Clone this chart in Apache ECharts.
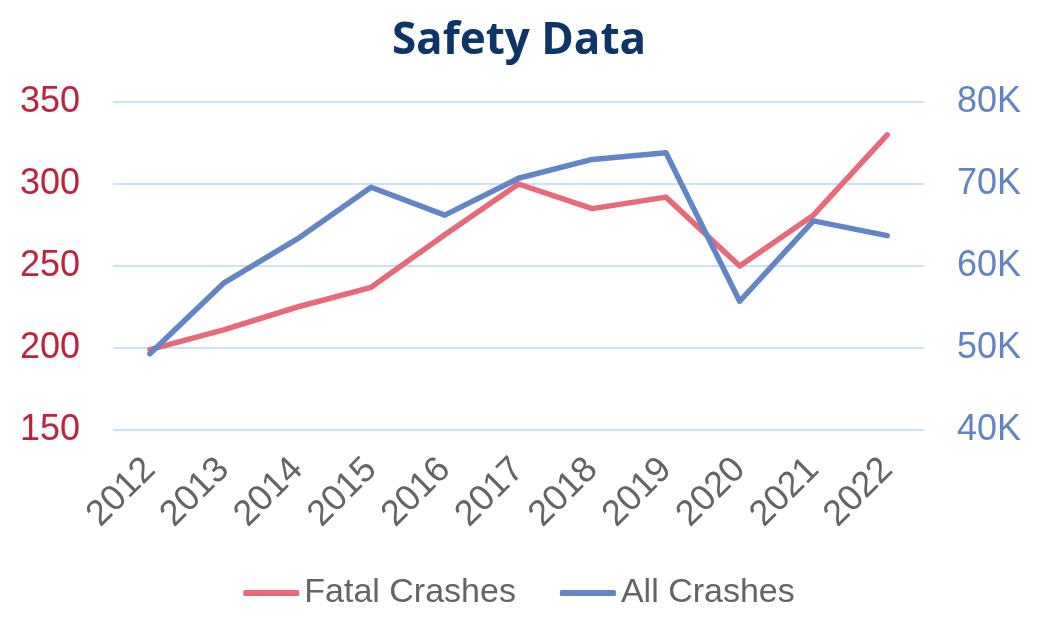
<!DOCTYPE html>
<html>
<head>
<meta charset="utf-8">
<script src="https://cdn.jsdelivr.net/npm/echarts@6/dist/echarts.min.js"></script>
<style>
  html, body { margin: 0; padding: 0; background: #fff; }
  #chart { width: 1038px; height: 620px; }
</style>
</head>
<body>
<div id="chart"></div>
<script>
// years on the x axis
var years = ['2012', '2013', '2014', '2015', '2016', '2017', '2018', '2019', '2020', '2021', '2022']
// left axis
var fatalCrashes = [199, 211, 225, 237, 269, 300, 285, 292, 250, 281, 330]
// right axis
var allCrashes = [49300, 57900, 63300, 69600, 66200, 70700, 73000, 73800, 55700, 65500, 63700]

var font = '"Liberation Sans", Arial, sans-serif'

var chart = echarts.init(document.getElementById('chart'))

chart.setOption({
  animation: false,
  title: {
    text: 'Safety Data',
    left: 'center',
    top: 14,
    textStyle: {
      fontFamily: '"Open Sans", sans-serif',
      fontWeight: 'bold',
      fontSize: 44,
      color: '#0F3568'
    }
  },
  grid: { left: 113, right: 114, top: 102, bottom: 190 },
  legend: {
    bottom: 5,
    left: 'center',
    icon: 'roundRect',
    itemWidth: 56,
    itemHeight: 6,
    itemGap: 44,
    textStyle: { fontFamily: font, fontSize: 34, color: '#646464' },
    data: ['Fatal Crashes', 'All Crashes']
  },
  xAxis: {
    type: 'category',
    data: years,
    boundaryGap: true,
    axisLine: { show: false },
    axisTick: { show: false },
    axisLabel: {
      rotate: 45,
      margin: 34,
      fontFamily: font,
      fontSize: 36,
      color: '#646464'
    }
  },
  yAxis: [
    {
      type: 'value',
      min: 150,
      max: 350,
      interval: 50,
      axisLine: { show: false },
      axisTick: { show: false },
      axisLabel: { margin: 33, fontFamily: font, fontSize: 36, color: '#C0223A' },
      splitLine: { lineStyle: { color: '#CBE3F8', width: 2 } }
    },
    {
      type: 'value',
      min: 40000,
      max: 80000,
      interval: 10000,
      axisLine: { show: false },
      axisTick: { show: false },
      splitLine: { show: false },
      axisLabel: {
        margin: 33,
        fontFamily: font,
        fontSize: 36,
        color: '#6384C4',
        formatter: function (v) { return (v / 1000) + 'K' }
      }
    }
  ],
  series: [
    {
      name: 'Fatal Crashes',
      type: 'line',
      yAxisIndex: 0,
      data: fatalCrashes,
      symbol: 'none',
      color: '#E8697A',
      lineStyle: { width: 5.5, color: '#E8697A', cap: 'round', join: 'round' }
    },
    {
      name: 'All Crashes',
      type: 'line',
      yAxisIndex: 1,
      data: allCrashes,
      symbol: 'none',
      color: '#6384C5',
      lineStyle: { width: 5.5, color: '#6384C5', cap: 'round', join: 'round' }
    }
  ]
})
</script>
</body>
</html>
